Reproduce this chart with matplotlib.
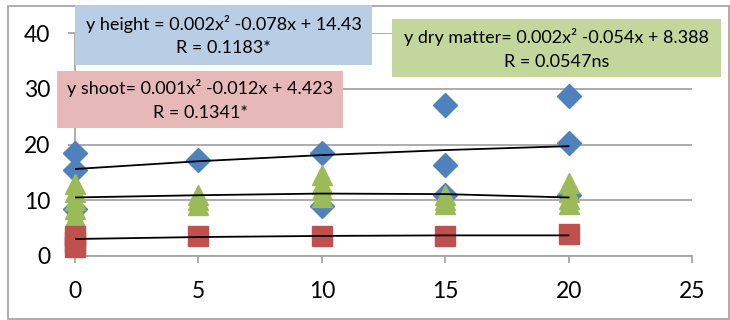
import matplotlib
matplotlib.use("Agg")
import matplotlib.pyplot as plt
from matplotlib.patches import Rectangle

plt.rcParams['font.family'] = ['Lato', 'DejaVu Sans']

# Data
height_x = [0, 0, 0, 5, 10, 10, 15, 15, 15, 20, 20, 20]
height_y = [18.5, 15.5, 8.4, 17.3, 18.5, 9.0, 27.1, 16.3, 11.0, 28.7, 20.2, 11.0]

dry_x = [0, 0, 0, 0, 0, 5, 5, 5, 10, 10, 10, 10, 15, 15, 15, 20, 20, 20, 20]
dry_y = [13.0, 11.5, 10.0, 8.5, 7.0, 10.9, 10.0, 9.1, 14.5, 13.0, 11.8, 10.6,
         10.9, 10.0, 9.3, 13.1, 11.5, 10.2, 9.3]

shoot_x = [0, 0, 0, 5, 10, 15, 20]
shoot_y = [3.6, 2.5, 1.6, 3.6, 3.6, 3.6, 3.9]

trend_x = [0, 5, 10, 15, 20]
trend_height = [15.6, 17.0, 18.1, 19.0, 19.7]
trend_dry = [10.5, 10.9, 11.2, 11.1, 10.5]
trend_shoot = [3.05, 3.4, 3.6, 3.7, 3.7]

xticks = [0, 5, 10, 15, 20, 25]
yticks = [0, 10, 20, 30, 40]

box_texts = [
    "y height = 0.002x\u00b2 -0.078x + 14.43\nR = 0.1183*",
    "y shoot= 0.001x\u00b2 -0.012x + 4.423\nR = 0.1341*",
    "y dry matter= 0.002x\u00b2 -0.054x + 8.388\nR = 0.0547ns",
]

W, H = 730, 320
fig = plt.figure(figsize=(W / 100, H / 100), dpi=100)

# outer border
fig.patches.append(Rectangle((8 / W, 1 / H), (W - 9) / W, (H - 7) / H,
                             transform=fig.transFigure, fill=False,
                             edgecolor='#a0a0a0', linewidth=1.2))

ax = fig.add_axes([75 / W, 64 / H, (692 - 75) / W, (256 - 33) / H])
ax.set_xlim(0, 25)
ax.set_ylim(0, 40)
ax.set_xticks(xticks)
ax.set_yticks(yticks)
ax.yaxis.grid(True, color='#a6a6a6', linewidth=1.3)
ax.set_axisbelow(True)
for s in ['top', 'right']:
    ax.spines[s].set_visible(False)
for s in ['left', 'bottom']:
    ax.spines[s].set_color('#a6a6a6')
    ax.spines[s].set_linewidth(1.3)
ax.tick_params(axis='both', colors='#a6a6a6', labelcolor='black',
               labelsize=16.5, length=5, width=1.3)
ax.tick_params(axis='x', pad=13)
ax.tick_params(axis='y', pad=13)

ax.plot(height_x, height_y, linestyle='none', marker='D', markersize=12,
        color='#4f81bd', clip_on=False, zorder=3)
ax.plot(dry_x, dry_y, linestyle='none', marker='^', markersize=15,
        color='#9bbb59', clip_on=False, zorder=4)
ax.plot(shoot_x, shoot_y, linestyle='none', marker='s', markersize=14,
        color='#c0504d', clip_on=False, zorder=5)

for ty in (trend_height, trend_dry, trend_shoot):
    ax.plot(trend_x, ty, color='black', linewidth=1.3, zorder=6)

boxes = [
    (75, 5, 372, 65, '#b9cde5', 24, 48),
    (57, 71, 343, 128, '#e6b9b8', 88, 113),
    (392, 19, 721, 77, '#c3d69b', 37, 62),
]
for (x0, y0, x1, y1, col, l1, l2), txt in zip(boxes, box_texts):
    fig.patches.append(Rectangle((x0 / W, 1 - y1 / H), (x1 - x0) / W,
                                 (y1 - y0) / H, transform=fig.transFigure,
                                 facecolor=col, edgecolor='none', zorder=10))
    lines = txt.split("\n")
    cx = (x0 + x1) / 2 / W
    fig.text(cx, 1 - l1 / H, lines[0], ha='center', va='center',
             fontsize=13, zorder=11)
    fig.text(cx, 1 - l2 / H, lines[1], ha='center', va='center',
             fontsize=13, zorder=11)

fig.savefig("out.png", dpi=100)
